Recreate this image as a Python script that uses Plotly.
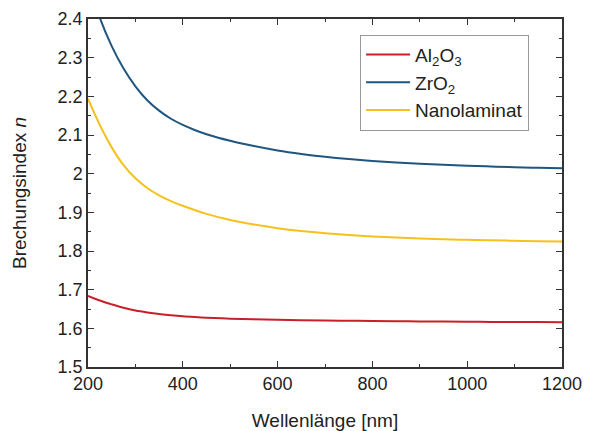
import plotly.graph_objects as go

# Wavelengths (nm) and refractive indices of the three films
wavelength = [200, 225, 250, 275, 300, 325, 350, 375, 400, 425,
              450, 500, 550, 600, 650, 700, 750, 800, 850, 900, 950, 1000, 1050, 1100, 1150, 1200]
n_al2o3 = [1.684, 1.672, 1.662, 1.653, 1.646, 1.641, 1.637, 1.634, 1.6313, 1.6292,
           1.6275, 1.6250, 1.6232, 1.6220, 1.6210, 1.6202, 1.6195, 1.6189, 1.6184, 1.6179,
           1.6175, 1.6171, 1.6167, 1.6164, 1.6161, 1.6158]
n_zro2 = [2.50, 2.403, 2.330, 2.272, 2.226, 2.190, 2.163, 2.142, 2.126, 2.113,
          2.102, 2.085, 2.0715, 2.0600, 2.0510, 2.0437, 2.0378, 2.0330, 2.0290, 2.0257,
          2.0229, 2.0205, 2.0185, 2.0167, 2.0152, 2.0138]
n_nano = [2.194, 2.126, 2.068, 2.022, 1.988, 1.963, 1.944, 1.929, 1.917, 1.906,
          1.896, 1.880, 1.8683, 1.8590, 1.8517, 1.8460, 1.8414, 1.8377, 1.8347, 1.8322,
          1.8303, 1.8289, 1.8276, 1.8265, 1.8255, 1.8246]

series = [
    ("Al<sub>2</sub>O<sub>3</sub>", n_al2o3, "#c8202a"),
    ("ZrO<sub>2</sub>", n_zro2, "#1f5680"),
    ("Nanolaminat", n_nano, "#f5c21b"),
]

x_ticks = [200, 400, 600, 800, 1000, 1200]
y_ticks = [1.5, 1.6, 1.7, 1.8, 1.9, 2.0, 2.1, 2.2, 2.3, 2.4]
y_labels = ["1.5", "1.6", "1.7", "1.8", "1.9", "2", "2.1", "2.2", "2.3", "2.4"]

fig = go.Figure()
for name, vals, color in series:
    fig.add_trace(go.Scatter(
        x=wavelength, y=vals, mode="lines", name=name,
        line=dict(color=color, width=2, shape="spline", smoothing=1.0),
    ))

axis_common = dict(
    showline=True, linecolor="#333333", linewidth=1.5, mirror="ticks",
    ticks="inside", ticklen=6, tickwidth=1.3, tickcolor="#333333",
    showgrid=False, zeroline=False, automargin=False,
    tickfont=dict(size=18, color="#222222"),
)

fig.update_xaxes(
    range=[200, 1200], tickvals=x_ticks,
    minor=dict(ticks="inside", ticklen=3, tickwidth=1.3, tickcolor="#333333", dtick=100, showgrid=False),
    title=dict(text="Wellenlänge [nm]", font=dict(size=19, color="#222222"), standoff=20),
    **axis_common,
)
fig.update_yaxes(
    range=[1.5, 2.4], tickvals=y_ticks, ticktext=y_labels,
    minor=dict(ticks="inside", ticklen=3, tickwidth=1.3, tickcolor="#333333", dtick=0.05, showgrid=False),
    title=dict(text="Brechungsindex <i>n</i>", font=dict(size=19, color="#222222"), standoff=26),
    **axis_common,
)

fig.update_layout(
    width=596, height=431,
    margin=dict(l=88, r=34, t=19, b=64),
    plot_bgcolor="white", paper_bgcolor="white",
    font=dict(family="Liberation Sans, Arial, sans-serif", color="#222222"),
    legend=dict(
        x=0.574, y=0.955, xanchor="left", yanchor="top",
        bgcolor="white", bordercolor="#999999", borderwidth=1,
        font=dict(size=19, color="#222222"),
        itemwidth=44, tracegroupgap=0,
    ),
)

fig.write_html("out.html")
